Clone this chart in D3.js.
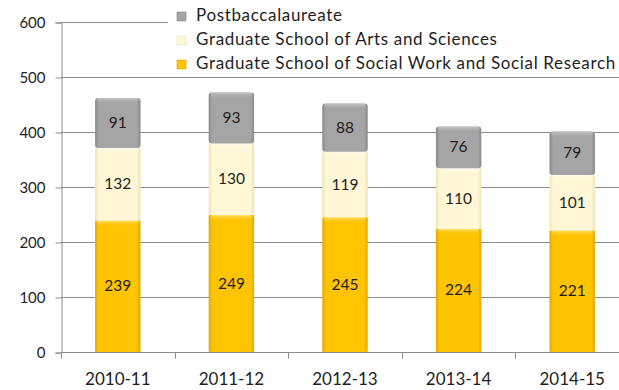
<!DOCTYPE html>
<html>
<head>
<meta charset="utf-8">
<script src="https://cdn.jsdelivr.net/npm/d3@7"></script>
<style>
  html, body { margin: 0; padding: 0; background: #fff; }
  svg { display: block; }
  text { font-family: Lato, "Open Sans", sans-serif; fill: #1e1e1e; }
</style>
</head>
<body>
<svg id="chart" width="619" height="390"></svg>
<script>
// Enrollment by academic year, stacked by school
const years = ["2010-11", "2011-12", "2012-13", "2013-14", "2014-15"];
const socialWork = [239, 249, 245, 224, 221];
const artsSciences = [132, 130, 119, 110, 101];
const postbacc = [91, 93, 88, 76, 79];
const seriesNames = [
  "Graduate School of Social Work and Social Research",
  "Graduate School of Arts and Sciences",
  "Postbaccalaureate"
];
const yTicks = [0, 100, 200, 300, 400, 500, 600];

const seriesValues = [socialWork, artsSciences, postbacc];
const palette = [
  { id: "gold",  mid: "#ffc400", edge: "#e0a800", top: "#ffe27a" },
  { id: "cream", mid: "#fff7d6", edge: "#efe3b0", top: "#fffbeb" },
  { id: "gray",  mid: "#a5a5a5", edge: "#8a8a8a", top: "#c8c8c8" }
];

const rows = years.map((y, i) => {
  const r = { year: y };
  seriesNames.forEach((n, k) => r[n] = seriesValues[k][i]);
  return r;
});
const stacked = d3.stack().keys(seriesNames)(rows);

const svg = d3.select("#chart");
const x = d3.scaleBand().domain(years).range([61, 629]).paddingInner(0.6).paddingOuter(0.3);
const y = d3.scaleLinear().domain([0, 600]).range([352, 22]);

// Gradients for the beveled bar look
const defs = svg.append("defs");
palette.forEach(p => {
  const g = defs.append("linearGradient").attr("id", "g-" + p.id)
    .attr("x1", 0).attr("x2", 1).attr("y1", 0).attr("y2", 0);
  g.append("stop").attr("offset", "0%").attr("stop-color", p.edge);
  g.append("stop").attr("offset", "8%").attr("stop-color", p.mid);
  g.append("stop").attr("offset", "92%").attr("stop-color", p.mid);
  g.append("stop").attr("offset", "100%").attr("stop-color", p.edge);
  const t = defs.append("linearGradient").attr("id", "t-" + p.id)
    .attr("x1", 0).attr("x2", 0).attr("y1", 0).attr("y2", 1);
  t.append("stop").attr("offset", "0%").attr("stop-color", p.top);
  t.append("stop").attr("offset", "100%").attr("stop-color", p.mid).attr("stop-opacity", 0);
});

// Gridlines
svg.append("g").selectAll("line").data(yTicks.filter(d => d > 0)).join("line")
  .attr("x1", 61).attr("x2", 619)
  .attr("y1", d => Math.round(y(d)) + 0.5).attr("y2", d => Math.round(y(d)) + 0.5)
  .attr("stroke", "#8c8c8c").attr("stroke-width", 1);

// Y axis
const yAxis = svg.append("g").attr("transform", "translate(61.5,0.5)")
  .call(d3.axisLeft(y).tickValues(yTicks).tickSize(6).tickPadding(10));
yAxis.select(".domain").attr("stroke", "#8c8c8c");
yAxis.selectAll(".tick line").attr("stroke", "#8c8c8c");
yAxis.selectAll(".tick text").style("font-size", "15px").style("font-family", "Lato, sans-serif").attr("fill", "#1e1e1e");

// X axis with ticks between categories
const xAxisG = svg.append("g").attr("transform", "translate(0," + (Math.round(y(0)) + 0.5) + ")");
xAxisG.append("line").attr("x1", 61).attr("x2", 619).attr("stroke", "#8c8c8c");
const bounds = years.map((d, i) => x(d) - x.step() * x.paddingInner() / 2).slice(1);
xAxisG.selectAll("line.tk").data([61].concat(bounds)).join("line").attr("class", "tk")
  .attr("x1", d => Math.round(d) + 0.5).attr("x2", d => Math.round(d) + 0.5)
  .attr("y1", 0).attr("y2", 6).attr("stroke", "#8c8c8c");
xAxisG.selectAll("text").data(years).join("text")
  .attr("x", d => x(d) + x.bandwidth() / 2).attr("y", 32)
  .attr("text-anchor", "middle").style("font-size", "17px").text(d => d);

// Stacked bars
stacked.forEach((layer, k) => {
  const p = palette[k];
  const g = svg.append("g");
  layer.forEach((d, i) => {
    const x0 = x(years[i]), w = x.bandwidth();
    const yTop = y(d[1]), h = y(d[0]) - y(d[1]);
    g.append("rect").attr("x", x0).attr("y", yTop).attr("width", w).attr("height", h)
      .attr("rx", k === 2 ? 3 : 1).attr("fill", "url(#g-" + p.id + ")");
    g.append("rect").attr("x", x0 + 2).attr("y", yTop).attr("width", w - 4).attr("height", 6)
      .attr("rx", 2).attr("fill", "url(#t-" + p.id + ")");
    g.append("text").attr("x", x0 + w / 2).attr("y", yTop + h / 2 + 5)
      .attr("text-anchor", "middle").style("font-size", "15.5px")
      .text(seriesValues[k][i]);
  });
});

// Legend (white box over the top gridline)
const lg = svg.append("g");
lg.append("rect").attr("x", 168).attr("y", 0).attr("width", 451).attr("height", 75).attr("fill", "#fff");
const legendOrder = [2, 1, 0];
legendOrder.forEach((k, j) => {
  const p = palette[k];
  const yy = 12 + j * 24;
  lg.append("rect").attr("x", 177).attr("y", yy).attr("width", 9).attr("height", 9)
    .attr("fill", "url(#g-" + p.id + ")").attr("stroke", p.edge).attr("stroke-width", 0.6);
  lg.append("text").attr("x", 196).attr("y", yy + 9).style("font-size", "17px")
    .style("letter-spacing", "0.65px").text(seriesNames[k]);
});
</script>
</body>
</html>
